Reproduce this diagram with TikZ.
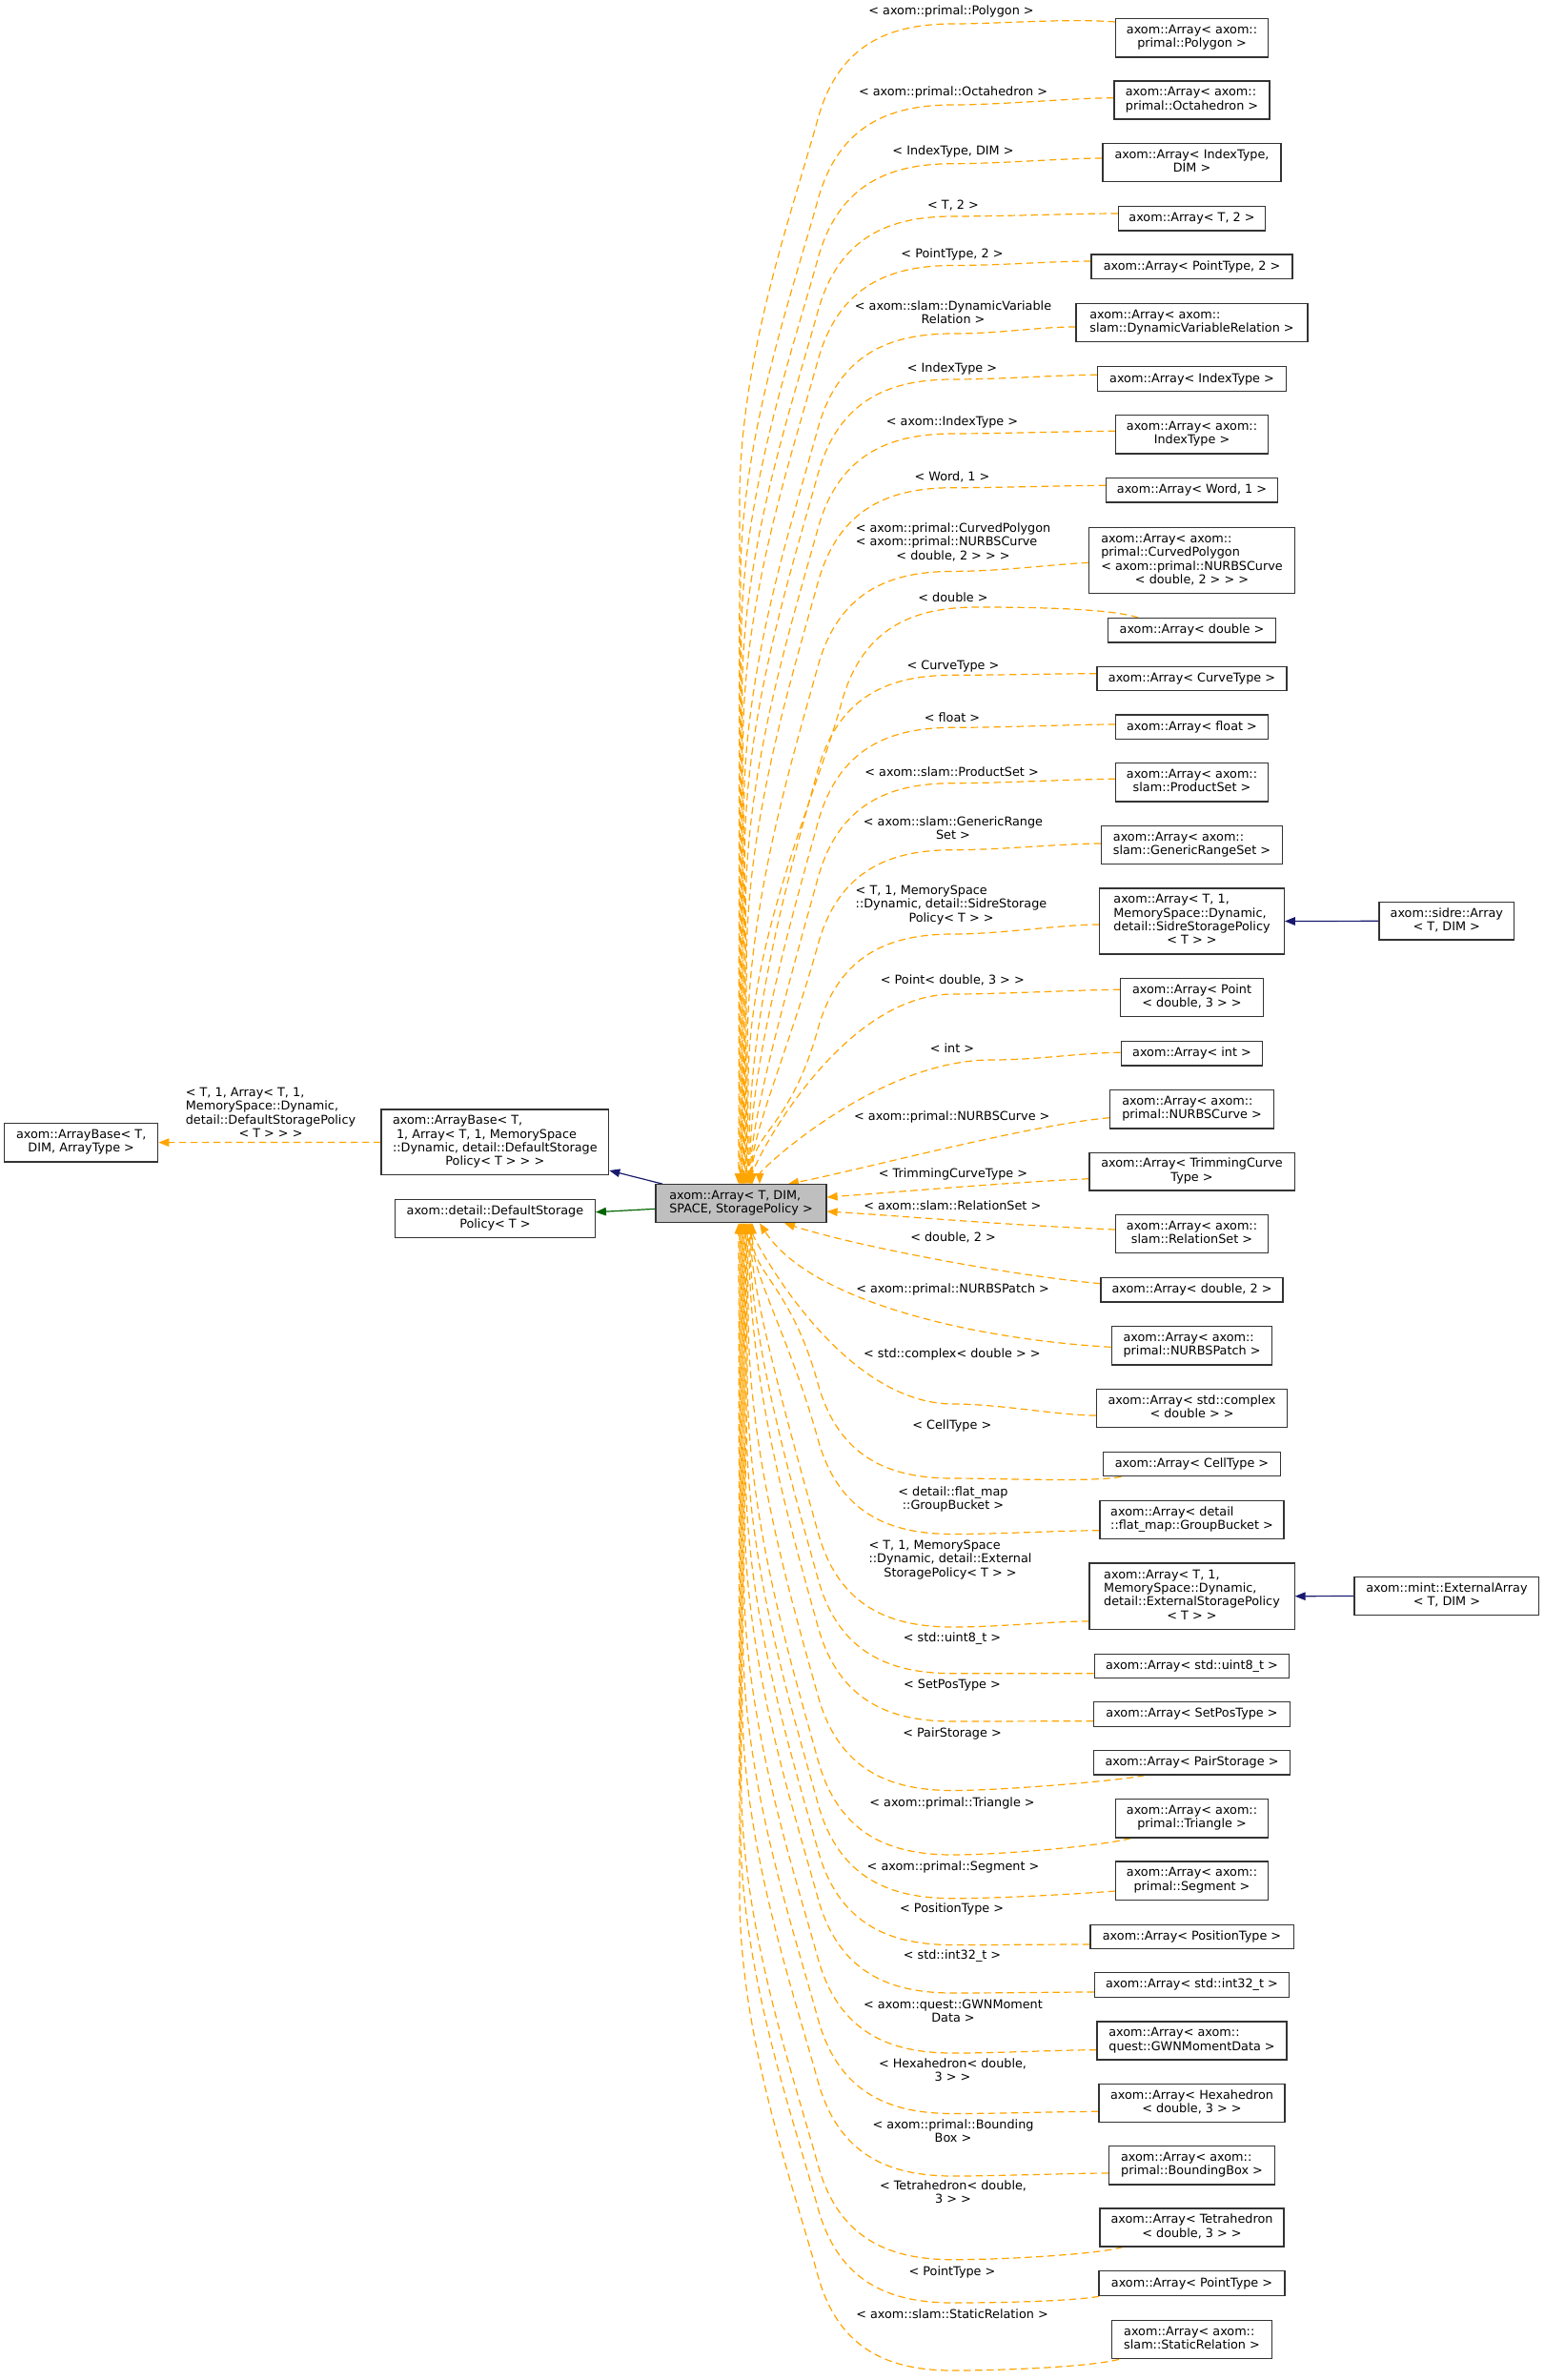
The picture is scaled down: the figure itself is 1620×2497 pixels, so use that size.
\documentclass[tikz,border=0pt]{standalone}
\usepackage{fontspec}
\setmainfont{DejaVu Sans}
\usetikzlibrary{arrows.meta}
\pgfdeclarelayer{edgelayer}
\pgfsetlayers{edgelayer,main}
\definecolor{dorange}{HTML}{FFA500}
\definecolor{dnavy}{HTML}{191970}
\definecolor{dgreen}{HTML}{006400}
\definecolor{rootfill}{HTML}{BFBFBF}
\newcommand{\ML}[2]{\begin{tabular}{@{}l@{}}#1\\\multicolumn{1}{@{}c@{}}{#2}\end{tabular}}
% far edges: start, first control offset, apex x, apex y, end x
\newcommand{\TEdge}[5]{\draw[dep] #1 .. controls +#2 and (#3+50,#4) .. (#3,#4)
  .. controls (#3-65,#4) and (#3-120,#4+20) .. (#3-142,#4+100)
  .. controls (#3-169.5,#4+200) and (#5+1,{min(#4+350,1190)}) .. (#5+1,{min(#4+500,1225)})
  -- (c.north -| #5,0);}
\newcommand{\BEdge}[5]{\draw[dep] #1 .. controls +#2 and (#3+50,#4) .. (#3,#4)
  .. controls (#3-65,#4) and (#3-120,#4-20) .. (#3-142,#4-100)
  .. controls (#3-169.5,#4-200) and (#5+1,{max(#4-350,1335)}) .. (#5+1,{max(#4-500,1300)})
  -- (c.south -| #5,0);}
% near edges: single curve
\newcommand{\TEdgeS}[5]{\draw[dep] #1 .. controls +#2 and (#3+50,#4) .. (#3,#4) .. controls (#3-120,#4) and (#5,{min(#4+180,1228)}) .. (c.north -| #5,0);}
\newcommand{\BEdgeS}[5]{\draw[dep] #1 .. controls +#2 and (#3+50,#4) .. (#3,#4) .. controls (#3-120,#4) and (#5,{max(#4-180,1297)}) .. (c.south -| #5,0);}
\begin{document}
\begin{tikzpicture}[x=1pt,y=-1pt,
  font=\fontsize{12.8}{14.3}\selectfont,
  box/.style={draw=black!80, line width=1.2pt, fill=white, inner sep=0pt, align=center},
  lbl/.style={inner sep=0pt, align=center},
  tip/.style={-{Triangle[length=11pt,width=8.5pt]}},
  dep/.style={draw=dorange, line width=1.2pt, dash pattern=on 7.5pt off 4.5pt, tip},
  inh/.style={draw=dnavy, line width=1.2pt, tip},
  use/.style={draw=dgreen, line width=1.2pt, tip}]
\begin{pgfonlayer}{edgelayer}
\fill[white] (0,0) rectangle (1620,2497);
\end{pgfonlayer}
\useasboundingbox (0,0) rectangle (1620,2497);

% ---- left part
\node[box, minimum width=161pt, minimum height=40.7pt] (ab) at (85.2,1198.65) {\ML{axom::ArrayBase< T,}{DIM, ArrayType >}};
\node[box, minimum width=238.7pt, minimum height=68.7pt] (ab2) at (519.35,1198.35) {\ML{axom::ArrayBase< T,\\\ 1, Array< T, 1, MemorySpace\\::Dynamic, detail::DefaultStorage}{Policy< T > > >}};
\node[box, minimum width=209.8pt, minimum height=39.8pt] (ds) at (519.4,1278.4) {\ML{axom::detail::DefaultStorage}{Policy< T >}};
\node[box, fill=rootfill, minimum width=179pt, minimum height=40pt] (c) at (777.5,1262.7) {\ML{axom::Array< T, DIM,}{SPACE, StoragePolicy >}};
\node[lbl] (l0) at (284,1169) {\ML{< T, 1, Array< T, 1,\\MemorySpace::Dynamic,\\detail::DefaultStoragePolicy}{< T > > >}};

% ---- right column
\node[box, minimum width=160pt, minimum height=40.5pt] (n1) at (1250.5,39.7) {\ML{axom::Array< axom::}{primal::Polygon >}};
\node[box, minimum width=163pt, minimum height=40pt] (n2) at (1250.5,105) {\ML{axom::Array< axom::}{primal::Octahedron >}};
\node[box, minimum width=187pt, minimum height=40pt] (n3) at (1250.5,170.7) {\ML{axom::Array< IndexType,}{DIM >}};
\node[box, minimum width=154pt, minimum height=25.5pt] (n4) at (1250.5,229.3) {axom::Array< T, 2 >};
\node[box, minimum width=211pt, minimum height=25.5pt] (n5) at (1250.5,279.8) {axom::Array< PointType, 2 >};
\node[box, minimum width=243pt, minimum height=40pt] (n6) at (1250.5,338.7) {\ML{axom::Array< axom::}{slam::DynamicVariableRelation >}};
\node[box, minimum width=197.4pt, minimum height=25.5pt] (n7) at (1250.5,397.5) {axom::Array< IndexType >};
\node[box, minimum width=159.7pt, minimum height=40.3pt] (n8) at (1250.5,455.8) {\ML{axom::Array< axom::}{IndexType >}};
\node[box, minimum width=179.8pt, minimum height=25.5pt] (n9) at (1250.5,514.3) {axom::Array< Word, 1 >};
\node[box, minimum width=215.4pt, minimum height=69.4pt] (n10) at (1250.5,588) {\ML{axom::Array< axom::\\primal::CurvedPolygon\\< axom::primal::NURBSCurve}{< double, 2 > > >}};
\node[box, minimum width=175.3pt, minimum height=25.5pt] (n11) at (1250.5,661.3) {axom::Array< double >};
\node[box, minimum width=199pt, minimum height=25.5pt] (n12) at (1250.5,712) {axom::Array< CurveType >};
\node[box, minimum width=159.7pt, minimum height=25.5pt] (n13) at (1250.5,762.7) {axom::Array< float >};
\node[box, minimum width=159.7pt, minimum height=40.3pt] (n14) at (1250.5,820.8) {\ML{axom::Array< axom::}{slam::ProductSet >}};
\node[box, minimum width=189.5pt, minimum height=40pt] (n15) at (1250.5,886.7) {\ML{axom::Array< axom::}{slam::GenericRangeSet >}};
\node[box, minimum width=193.5pt, minimum height=69pt] (n16) at (1250.5,966.5) {\ML{axom::Array< T, 1,\\MemorySpace::Dynamic,\\detail::SidreStoragePolicy}{< T > >}};
\node[box, minimum width=141.7pt, minimum height=39.3pt] (n17) at (1517.8,966.3) {\ML{axom::sidre::Array}{< T, DIM >}};
\node[box, minimum width=149.4pt, minimum height=40pt] (n18) at (1250.5,1046.7) {\ML{axom::Array< Point}{< double, 3 > >}};
\node[box, minimum width=148.5pt, minimum height=25.5pt] (n19) at (1250.5,1105.2) {axom::Array< int >};
\node[box, minimum width=171.5pt, minimum height=40.5pt] (n20) at (1250.5,1163.7) {\ML{axom::Array< axom::}{primal::NURBSCurve >}};
\node[box, minimum width=215.2pt, minimum height=39.7pt] (n21) at (1250.5,1229.2) {\ML{axom::Array< TrimmingCurve}{Type >}};
\node[box, minimum width=159.7pt, minimum height=40.4pt] (n22) at (1250.5,1294.5) {\ML{axom::Array< axom::}{slam::RelationSet >}};
\node[box, minimum width=191pt, minimum height=25.5pt] (n23) at (1250.5,1353.2) {axom::Array< double, 2 >};
\node[box, minimum width=168.5pt, minimum height=40.3pt] (n24) at (1250.5,1411.9) {\ML{axom::Array< axom::}{primal::NURBSPatch >}};
\node[box, minimum width=199.9pt, minimum height=40pt] (n25) at (1250.5,1477.3) {\ML{axom::Array< std::complex}{< double > >}};
\node[box, minimum width=186.6pt, minimum height=25.5pt] (n26) at (1250.5,1535.9) {axom::Array< CellType >};
\node[box, minimum width=193pt, minimum height=40pt] (n27) at (1250.5,1594.3) {\ML{axom::Array< detail}{::flat\_map::GroupBucket >}};
\node[box, minimum width=215.2pt, minimum height=69.3pt] (n28) at (1250.5,1674.7) {\ML{axom::Array< T, 1,\\MemorySpace::Dynamic,\\detail::ExternalStoragePolicy}{< T > >}};
\node[box, minimum width=193.7pt, minimum height=39.6pt] (n29) at (1517.9,1674.5) {\ML{axom::mint::ExternalArray}{< T, DIM >}};
\node[box, minimum width=204.5pt, minimum height=25.5pt] (n30) at (1250.5,1748) {axom::Array< std::uint8\_t >};
\node[box, minimum width=205.8pt, minimum height=25.5pt] (n31) at (1250.5,1798.5) {axom::Array< SetPosType >};
\node[box, minimum width=205.8pt, minimum height=25.5pt] (n32) at (1250.5,1849.3) {axom::Array< PairStorage >};
\node[box, minimum width=159.7pt, minimum height=40.3pt] (n33) at (1250.5,1907.9) {\ML{axom::Array< axom::}{primal::Triangle >}};
\node[box, minimum width=159.7pt, minimum height=40.3pt] (n34) at (1250.5,1973.2) {\ML{axom::Array< axom::}{primal::Segment >}};
\node[box, minimum width=213.2pt, minimum height=25.5pt] (n35) at (1250.5,2031.9) {axom::Array< PositionType >};
\node[box, minimum width=203.9pt, minimum height=25.5pt] (n36) at (1250.5,2082.5) {axom::Array< std::int32\_t >};
\node[box, minimum width=199pt, minimum height=40pt] (n37) at (1250.5,2141) {\ML{axom::Array< axom::}{quest::GWNMomentData >}};
\node[box, minimum width=195pt, minimum height=40.4pt] (n38) at (1250.5,2206.5) {\ML{axom::Array< Hexahedron}{< double, 3 > >}};
\node[box, minimum width=173.8pt, minimum height=40.3pt] (n39) at (1250.5,2271.9) {\ML{axom::Array< axom::}{primal::BoundingBox >}};
\node[box, minimum width=193pt, minimum height=40pt] (n40) at (1250.5,2337) {\ML{axom::Array< Tetrahedron}{< double, 3 > >}};
\node[box, minimum width=195pt, minimum height=26pt] (n41) at (1250.5,2395.7) {axom::Array< PointType >};
\node[box, minimum width=168.5pt, minimum height=40.4pt] (n42) at (1250.5,2454.5) {\ML{axom::Array< axom::}{slam::StaticRelation >}};

% ---- edge labels
\node[lbl] (l1) at (998,11.7) {< axom::primal::Polygon >};
\node[lbl] (l2) at (1000,96.7) {< axom::primal::Octahedron >};
\node[lbl] (l3) at (1000,158.7) {< IndexType, DIM >};
\node[lbl] (l4) at (1000,215.7) {< T, 2 >};
\node[lbl] (l5) at (999,266.7) {< PointType, 2 >};
\node[lbl] (l6) at (1000,329.7) {\ML{< axom::slam::DynamicVariable}{Relation >}};
\node[lbl] (l7) at (999,386.7) {< IndexType >};
\node[lbl] (l8) at (999,443.3) {< axom::IndexType >};
\node[lbl] (l9) at (999,500) {< Word, 1 >};
\node[lbl] (l10) at (1000,570) {\ML{< axom::primal::CurvedPolygon\\< axom::primal::NURBSCurve}{< double, 2 > > >}};
\node[lbl] (l11) at (1000,626.7) {< double >};
\node[lbl] (l12) at (1000,699.3) {< CurveType >};
\node[lbl] (l13) at (999,752.3) {< float >};
\node[lbl] (l14) at (998.6,810) {< axom::slam::ProductSet >};
\node[lbl] (l15) at (1000,870.8) {\ML{< axom::slam::GenericRange}{Set >}};
\node[lbl] (l16) at (998,950) {\ML{< T, 1, MemorySpace\\::Dynamic, detail::SidreStorage}{Policy< T > >}};
\node[lbl] (l17) at (999.3,1028.3) {< Point< double, 3 > >};
\node[lbl] (l18) at (999,1100) {< int >};
\node[lbl] (l19) at (998.8,1171.7) {< axom::primal::NURBSCurve >};
\node[lbl] (l20) at (1000,1231.7) {< TrimmingCurveType >};
\node[lbl] (l21) at (999.3,1264.3) {< axom::slam::RelationSet >};
\node[lbl] (l22) at (1000,1298.3) {< double, 2 >};
\node[lbl] (l23) at (999.6,1352.7) {< axom::primal::NURBSPatch >};
\node[lbl] (l24) at (998.8,1420.7) {< std::complex< double > >};
\node[lbl] (l25) at (998.8,1495.7) {< CellType >};
\node[lbl] (l26) at (1000,1573.7) {\ML{< detail::flat\_map}{::GroupBucket >}};
\node[lbl] (l27) at (997,1637) {\ML{< T, 1, MemorySpace\\::Dynamic, detail::External}{StoragePolicy< T > >}};
\node[lbl] (l28) at (999,1719.3) {< std::uint8\_t >};
\node[lbl] (l29) at (999,1768.3) {< SetPosType >};
\node[lbl] (l30) at (999,1819) {< PairStorage >};
\node[lbl] (l31) at (999,1891.7) {< axom::primal::Triangle >};
\node[lbl] (l32) at (1000,1959.3) {< axom::primal::Segment >};
\node[lbl] (l33) at (998.6,2003.3) {< PositionType >};
\node[lbl] (l34) at (999,2052.3) {< std::int32\_t >};
\node[lbl] (l35) at (1000,2111.3) {\ML{< axom::quest::GWNMoment}{Data >}};
\node[lbl] (l36) at (999.5,2173.7) {\ML{< Hexahedron< double,}{3 > >}};
\node[lbl] (l37) at (1000,2237.7) {\ML{< axom::primal::Bounding}{Box >}};
\node[lbl] (l38) at (1000,2301.7) {\ML{< Tetrahedron< double,}{3 > >}};
\node[lbl] (l39) at (999,2383.7) {< PointType >};
\node[lbl] (l40) at (999,2427.7) {< axom::slam::StaticRelation >};

\begin{pgfonlayer}{edgelayer}
% ---- edges on the left
\draw[dep] (ab2.west) -- (ab.east);
\draw[inh] (c.north -| 695,0) -- (ab2.east |- 0,1228);
\draw[use] (c.west |- 0,1268.3) -- (ds.east |- 0,1271.7);
\draw[inh] (n17.west) -- (n16.east);
\draw[inh] (n29.west) -- (n28.east);

% ---- edges to the top of the class
\TEdge{(n1.west |- 0,23)}{(-50,-4)}{1000}{25}{775}
\TEdge{(n2.west |- 0,102.7)}{(-40,0)}{1000}{110}{775.9}
\TEdge{(n3.west |- 0,166)}{(-40,0)}{1000}{171.7}{776.8}
\TEdge{(n4.west |- 0,224)}{(-40,0)}{1000}{227}{777.7}
\TEdge{(n5.west |- 0,274)}{(-40,0)}{1000}{278.5}{778.6}
\TEdge{(n6.west |- 0,343)}{(-40,0)}{1000}{350}{779.5}
\TEdge{(n7.west |- 0,393.3)}{(-40,0)}{1000}{398}{780.4}
\TEdge{(n8.west |- 0,452.3)}{(-40,0)}{1000}{455}{781.3}
\TEdge{(n9.west |- 0,509.3)}{(-40,0)}{1000}{511.7}{782.2}
\TEdge{(n10.west |- 0,590.3)}{(-40,2)}{1000}{599.4}{783.1}
\TEdge{(n11.north -| 1194,0)}{(-30,-10)}{1025}{637}{784}
\TEdge{(n12.west |- 0,706.7)}{(-40,0)}{1000}{708.3}{784.9}
\TEdge{(n13.west |- 0,760)}{(-40,0)}{1000}{763.3}{785.8}
\TEdge{(n14.west |- 0,817.3)}{(-40,0)}{1000}{821.7}{786.7}
\TEdge{(n15.west |- 0,885)}{(-40,0)}{1000}{891.7}{787.6}
\TEdge{(n16.west |- 0,970)}{(-40,0)}{1000}{980}{788.5}
\TEdgeS{(n18.west |- 0,1038.3)}{(-40,0)}{1000}{1043}{789.4}
\TEdgeS{(n19.west |- 0,1104.3)}{(-40,0)}{1040}{1112}{797}
\draw[dep] (n20.west |- 0,1172.7) .. controls (1080,1180) and (900,1228) .. (c.north -| 827,0);
\draw[dep] (n21.west |- 0,1236.7) .. controls (1050,1241) and (950,1250) .. (c.east |- 0,1256);
\draw[dep] (n22.west |- 0,1290) .. controls (1050,1285) and (950,1276) .. (c.east |- 0,1271);
% ---- edges to the bottom of the class
\draw[dep] (n23.west |- 0,1346.7) .. controls (1060,1338) and (900,1308) .. (c.south -| 823,0);
\draw[dep] (n24.west |- 0,1413.3) .. controls (1020,1405) and (850,1365) .. (c.south -| 797,0);
\BEdgeS{(n25.west |- 0,1485)}{(-40,0)}{1000}{1473}{789.4}
\BEdge{(n26.south -| 1176.6,0)}{(-30,6)}{1000}{1551}{788.5}
\BEdge{(n27.west |- 0,1605.7)}{(-40,0)}{1000}{1609.5}{787.6}
\BEdge{(n28.west |- 0,1701)}{(-40,0)}{1000}{1707}{786.7}
\BEdge{(n30.west |- 0,1755.7)}{(-40,0)}{1000}{1755.7}{785.8}
\BEdge{(n31.west |- 0,1805.7)}{(-40,0)}{1000}{1806}{784.9}
\BEdge{(n32.south -| 1201,0)}{(-30,6)}{1000}{1878.5}{784}
\BEdge{(n33.south -| 1186.4,0)}{(-30,8)}{1000}{1946}{783.1}
\BEdge{(n34.west |- 0,1984)}{(-40,3)}{1000}{1991.7}{782.2}
\BEdge{(n35.west |- 0,2040)}{(-40,0)}{1000}{2040.5}{781.3}
\BEdge{(n36.west |- 0,2090)}{(-40,0)}{1000}{2091}{780.4}
\BEdge{(n37.west |- 0,2150.7)}{(-40,0)}{1000}{2154}{779.5}
\BEdge{(n38.west |- 0,2215.3)}{(-40,0)}{1000}{2217.5}{778.6}
\BEdge{(n39.west |- 0,2280)}{(-40,0)}{1000}{2283}{777.7}
\BEdge{(n40.south -| 1178,0)}{(-30,8)}{1000}{2370.7}{776.8}
\BEdge{(n41.south -| 1153,0)}{(-30,5)}{1000}{2416}{775.9}
\BEdge{(n42.south -| 1174,0)}{(-30,8)}{1000}{2487}{775}
\end{pgfonlayer}
\end{tikzpicture}
\end{document}
